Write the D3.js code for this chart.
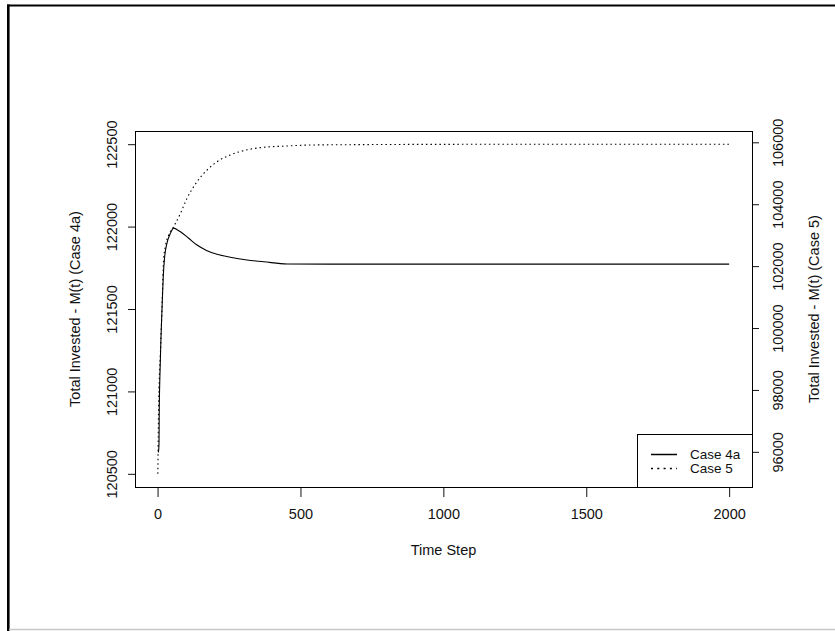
<!DOCTYPE html>
<html>
<head>
<meta charset="utf-8">
<script src="https://cdn.jsdelivr.net/npm/d3@7"></script>
<style>
  html, body { margin: 0; padding: 0; background: #fff; }
  svg { display: block; }
  text { font-family: "Liberation Sans", Arial, Helvetica, sans-serif; fill: #111; }
</style>
</head>
<body>
<svg id="chart" width="835" height="631"></svg>
<script>
// ---------------- data ----------------
const timeSteps4a = [3, 5, 6, 8, 12, 16, 20, 25, 33, 45, 56, 70, 80, 109, 138, 173, 208, 254, 313, 371, 453, 600, 1000, 2000];
const case4a      = [120630, 120680, 120900, 121080, 121330, 121520, 121700, 121820, 121900, 121959, 121991, 121979, 121969, 121929, 121888, 121854, 121832, 121814, 121797, 121787, 121773, 121772, 121772, 121772];

const timeSteps5  = [1, 4, 10, 16, 21, 27, 39, 56, 80, 103, 138, 173, 208, 254, 313, 371, 449, 534, 700, 1000, 2000];
const case5       = [95290, 97671, 99190, 100806, 102196, 102626, 103004, 103272, 103705, 104190, 104727, 105105, 105373, 105590, 105758, 105838, 105880, 105913, 105925, 105935, 105940];

const xTicks      = [0, 500, 1000, 1500, 2000];
const leftTicks   = [120500, 121000, 121500, 122000, 122500];
const rightTicks  = [96000, 98000, 100000, 102000, 104000, 106000];
const leftLimits  = [120500, 122500];
const xLimits     = [1, 2000];

const seriesNames = ["Case 4a", "Case 5"];
const xTitle      = "Time Step";
const leftTitle   = "Total Invested - M(t) (Case 4a)";
const rightTitle  = "Total Invested - M(t) (Case 5)";

// ---------------- layout ----------------
const svg = d3.select("#chart");
const plot = { left: 135, right: 752, top: 131, bottom: 487 };
const pad = (lo, hi) => { const d = (hi - lo) * 0.04; return [lo - d, hi + d]; };

const x = d3.scaleLinear().domain(pad(xLimits[0], xLimits[1])).range([plot.left, plot.right]);
const yL = d3.scaleLinear().domain(pad(leftLimits[0], leftLimits[1])).range([plot.bottom, plot.top]);
const r5 = d3.extent(case5);
const yR = d3.scaleLinear().domain(pad(r5[0], r5[1])).range([plot.bottom, plot.top]);

// outer frame
svg.append("line").attr("x1", 7).attr("x2", 835).attr("y1", 5.5).attr("y2", 5.5)
  .attr("stroke", "#000").attr("stroke-width", 2);
svg.append("line").attr("x1", 8.3).attr("x2", 8.3).attr("y1", 4.5).attr("y2", 631)
  .attr("stroke", "#000").attr("stroke-width", 2.6);
svg.append("line").attr("x1", 9).attr("x2", 835).attr("y1", 629.5).attr("y2", 629.5)
  .attr("stroke", "#c8c8c8").attr("stroke-width", 1.5);

const fs = 14.5;
const ff = '"Liberation Sans", Arial, sans-serif';

// x axis
const gx = svg.append("g").attr("transform", `translate(0,${plot.bottom})`)
  .call(d3.axisBottom(x).tickValues(xTicks).tickSize(10).tickPadding(0).tickFormat(d3.format("d")));
gx.select(".domain").remove();
gx.selectAll("line").attr("stroke", "#111");
gx.selectAll("text").attr("y", 32).attr("dy", 0).style("font-size", fs + "px")
  .style("font-family", ff).attr("fill", "#111");

// left axis
const gl = svg.append("g").attr("transform", `translate(${plot.left},0)`)
  .call(d3.axisLeft(yL).tickValues(leftTicks).tickSize(7).tickFormat(d3.format("d")));
gl.select(".domain").remove();
gl.selectAll("line").attr("stroke", "#111");
gl.selectAll("text")
  .attr("dy", null)
  .attr("text-anchor", "middle")
  .attr("transform", "translate(-18,0) rotate(-90)")
  .attr("x", 0).attr("y", 0)
  .style("font-size", fs + "px").style("font-family", ff).attr("fill", "#111");

// right axis
const gr = svg.append("g").attr("transform", `translate(${plot.right},0)`)
  .call(d3.axisRight(yR).tickValues(rightTicks).tickSize(7).tickFormat(d3.format("d")));
gr.select(".domain").remove();
gr.selectAll("line").attr("stroke", "#111");
gr.selectAll("text")
  .attr("dy", null)
  .attr("text-anchor", "middle")
  .attr("transform", "translate(31,0) rotate(-90)")
  .attr("x", 0).attr("y", 0)
  .style("font-size", fs + "px").style("font-family", ff).attr("fill", "#111");

// axis titles
const midY = (plot.top + plot.bottom) / 2;
svg.append("text").attr("x", (plot.left + plot.right) / 2).attr("y", 555)
  .attr("text-anchor", "middle").style("font-size", fs + "px").text(xTitle);
svg.append("text").attr("transform", `translate(80,${midY}) rotate(-90)`)
  .attr("text-anchor", "middle").style("font-size", fs + "px").text(leftTitle);
svg.append("text").attr("transform", `translate(819,${midY}) rotate(-90)`)
  .attr("text-anchor", "middle").style("font-size", fs + "px").text(rightTitle);

// lines
svg.append("clipPath").attr("id", "clip").append("rect")
  .attr("x", plot.left).attr("y", plot.top).attr("width", plot.right - plot.left).attr("height", plot.bottom - plot.top);

const line4a = d3.line().x((d, i) => x(timeSteps4a[i])).y(d => yL(d)).curve(d3.curveMonotoneX);
const line5  = d3.line().x((d, i) => x(timeSteps5[i])).y(d => yR(d)).curve(d3.curveMonotoneX);

svg.append("path").datum(case4a).attr("d", line4a).attr("fill", "none")
  .attr("stroke", "#000").attr("stroke-width", 1.1).attr("clip-path", "url(#clip)");
svg.append("path").datum(case5).attr("d", line5).attr("fill", "none")
  .attr("stroke", "#000").attr("stroke-width", 1.1).attr("stroke-dasharray", "1.5,3")
  .attr("clip-path", "url(#clip)");

// plot box
svg.append("rect").attr("x", plot.left + 0.5).attr("y", plot.top + 0.5)
  .attr("width", plot.right - plot.left).attr("height", plot.bottom - plot.top)
  .attr("fill", "none").attr("stroke", "#000").attr("stroke-width", 1);

// legend
const lg = { left: 637, top: 434, right: plot.right, bottom: plot.bottom };
svg.append("rect").attr("x", lg.left + 0.5).attr("y", lg.top + 0.5)
  .attr("width", lg.right - lg.left).attr("height", lg.bottom - lg.top)
  .attr("fill", "#fff").attr("stroke", "#000").attr("stroke-width", 1);
const dashes = [null, "2,4.3"];
seriesNames.forEach((name, i) => {
  const yy = 454.5 + i * 14;
  svg.append("line").attr("x1", 651).attr("x2", 677).attr("y1", yy).attr("y2", yy)
    .attr("stroke", "#000").attr("stroke-width", 1.5).attr("stroke-dasharray", dashes[i]);
  svg.append("text").attr("x", 690).attr("y", yy + 4.6).style("font-size", "13.5px").text(name);
});
</script>
</body>
</html>
